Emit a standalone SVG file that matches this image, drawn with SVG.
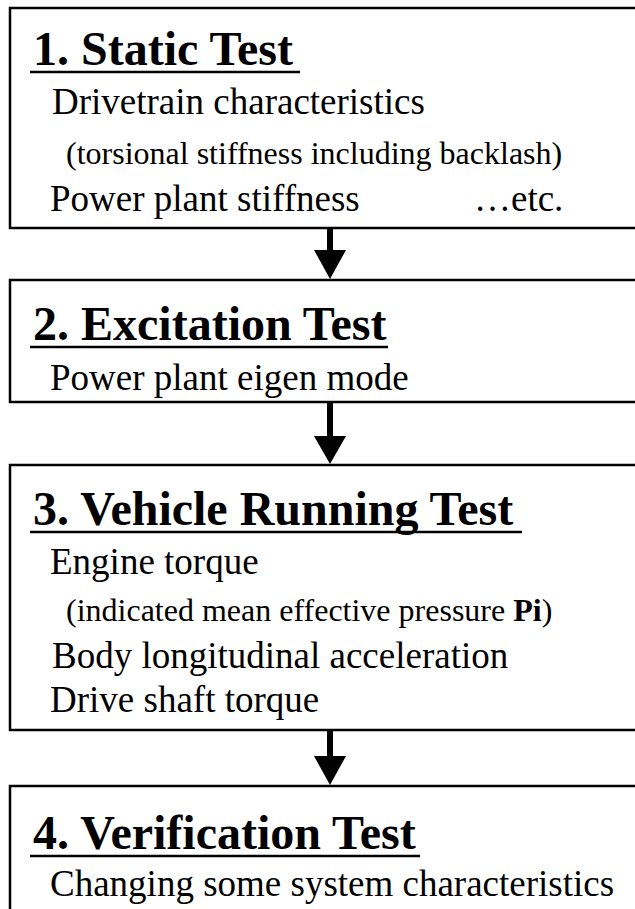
<svg xmlns="http://www.w3.org/2000/svg" width="635" height="909" viewBox="0 0 635 909">
<style>
.box{fill:#fff;stroke:#000;stroke-width:2.5}
text{font-family:'Liberation Serif',Tinos,'Times New Roman',Times,serif;fill:#000}
.title{font-weight:bold;font-size:48px}
.body{font-size:37px}
.small{font-size:32px}
.ul{stroke:#000;stroke-width:2.5}
.shaft{stroke:#000;stroke-width:6}
</style>
<rect width="635" height="909" fill="#fff"/>
<g id="node1">
<rect class="box" x="10" y="8" width="640" height="220"/>
<text class="title" x="33" y="65">1. Static Test</text>
<line class="ul" x1="30" y1="72" x2="300" y2="72"/>
<text class="body" x="52" y="114">Drivetrain characteristics</text>
<text class="small" x="66" y="164">(torsional stiffness including backlash)</text>
<text class="body" x="50" y="211">Power plant stiffness</text>
<text class="body" x="474" y="211">…etc.</text>
</g>
<g id="node2">
<rect class="box" x="10" y="280" width="640" height="122"/>
<text class="title" x="33" y="340">2. Excitation Test</text>
<line class="ul" x1="30" y1="347" x2="388" y2="347"/>
<text class="body" x="50" y="390">Power plant eigen mode</text>
</g>
<g id="node3">
<rect class="box" x="10" y="465" width="640" height="265"/>
<text class="title" x="33" y="525">3. Vehicle Running Test</text>
<line class="ul" x1="30" y1="532" x2="522" y2="532"/>
<text class="body" x="50" y="574">Engine torque</text>
<text class="small" x="66" y="621">(indicated mean effective pressure <tspan font-weight="bold">Pi</tspan>)</text>
<text class="body" x="52" y="668">Body longitudinal acceleration</text>
<text class="body" x="50" y="712">Drive shaft torque</text>
</g>
<g id="node4">
<rect class="box" x="10" y="786" width="640" height="140"/>
<text class="title" x="33" y="849">4. Verification Test</text>
<line class="ul" x1="30" y1="856" x2="420" y2="856"/>
<text class="body" x="50" y="896">Changing some system characteristics</text>
</g>
<g id="connectors">
<line class="shaft" x1="330" y1="229" x2="330" y2="252"/>
<polygon points="314,250 346,250 330,279"/>
<line class="shaft" x1="330" y1="403" x2="330" y2="438"/>
<polygon points="314,436 346,436 330,464"/>
<line class="shaft" x1="330" y1="731" x2="330" y2="758"/>
<polygon points="314,756 346,756 330,785"/>
</g>
</svg>
